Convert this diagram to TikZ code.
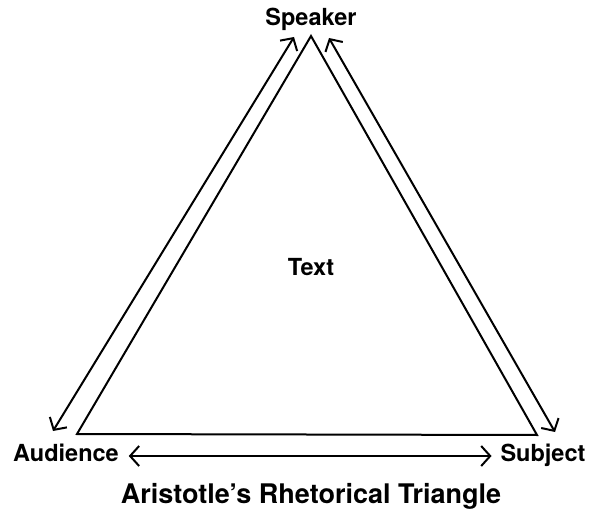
\documentclass[tikz,border=0pt]{standalone}
\usepackage{fontspec}
\setmainfont{TeX Gyre Heros}
\usetikzlibrary{arrows.meta}
\tikzstyle{corner}=[font=\fontsize{23.5}{23.5}\selectfont\bfseries, inner sep=0pt, anchor=base]
\tikzstyle{caption}=[font=\fontsize{27}{27}\selectfont\bfseries, inner sep=0pt, anchor=base]
\tikzstyle{flow}=[{Straight Barb[length=9pt,width=20pt]}-{Straight Barb[length=9pt,width=20pt]}]

\begin{document}
\begin{tikzpicture}[x=1pt, y=-1pt, line width=2pt, line join=miter]
\useasboundingbox (0,0) rectangle (594,510);
% Triangle corners
    \coordinate (apex) at (311,36);
    \coordinate (left) at (77,434);
    \coordinate (right) at (537,435);
    \draw (apex) -- (right) -- (left) -- cycle;
% Labels
    \node[corner] (speaker) at (311,26) {Speaker};
    \node[corner] (audience) at (66,461) {Audience};
    \node[corner] (subject) at (543,461) {Subject};
    \node[corner] (text) at (311,276) {Text};
    \node[caption] (title) at (311,503) {Aristotle's Rhetorical Triangle};
% Arrow ends along the sides
    \coordinate (lefttop) at (294,37);
    \coordinate (leftbot) at (53,431);
    \coordinate (righttop) at (329,38);
    \coordinate (rightbot) at (555,432);
% Arrows
    \draw[flow] (lefttop) -- (leftbot);
    \draw[flow] (righttop) -- (rightbot);
    \draw[flow] ([xshift=9pt,yshift=5pt]audience.base east) -- ([xshift=-8pt,yshift=5pt]subject.base west);
\end{tikzpicture}
\end{document}
